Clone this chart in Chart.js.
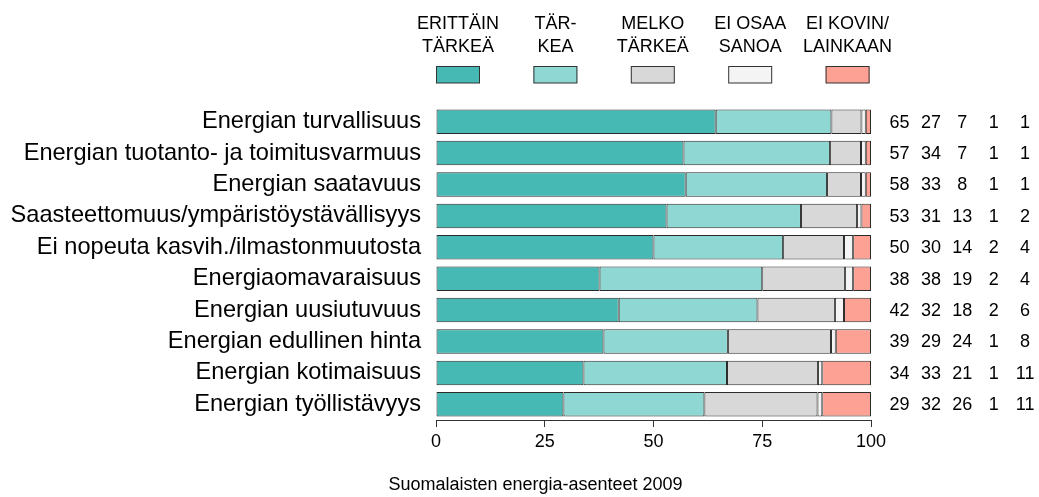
<!DOCTYPE html>
<html>
<head>
<meta charset="utf-8">
<script src="https://cdn.jsdelivr.net/npm/chart.js@4"></script>
<style>
  html, body { margin: 0; padding: 0; background: #ffffff; }
  #wrap { width: 1039px; height: 497px; position: relative; }
</style>
</head>
<body>
<div id="wrap"><canvas id="c" width="1039" height="497"></canvas></div>
<script>
// ---- Data ----
const categories = [
  'Energian turvallisuus',
  'Energian tuotanto- ja toimitusvarmuus',
  'Energian saatavuus',
  'Saasteettomuus/ympäristöystävällisyys',
  'Ei nopeuta kasvih./ilmastonmuutosta',
  'Energiaomavaraisuus',
  'Energian uusiutuvuus',
  'Energian edullinen hinta',
  'Energian kotimaisuus',
  'Energian työllistävyys'
];

const seriesNames = ['ERITTÄIN TÄRKEÄ', 'TÄRKEA', 'MELKO TÄRKEÄ', 'EI OSAA SANOA', 'EI KOVIN/ LAINKAAN'];
const legendLine1 = ['ERITTÄIN', 'TÄR-', 'MELKO', 'EI OSAA', 'EI KOVIN/'];
const legendLine2 = ['TÄRKEÄ', 'KEA', 'TÄRKEÄ', 'SANOA', 'LAINKAAN'];

// bar shares (%)
const erittainTarkea = [64.3, 56.9, 57.4, 53.0, 50.0, 37.6, 42.0, 38.5, 33.9, 29.3];
const tarkea         = [26.6, 33.7, 32.5, 30.9, 29.8, 37.4, 31.9, 28.6, 33.0, 32.4];
const melkoTarkea    = [ 6.9,  7.1,  7.8, 12.9, 14.0, 19.0, 17.8, 23.7, 20.9, 26.0];
const eiOsaaSanoa    = [ 1.0,  1.1,  1.1,  1.0,  2.1,  1.9,  2.1,  1.1,  1.0,  1.1];
const eiKovin        = [ 1.2,  1.2,  1.2,  2.2,  4.1,  4.1,  6.2,  8.1, 11.2, 11.2];

// rounded percentages printed on the right
const lblErittain = [65, 57, 58, 53, 50, 38, 42, 39, 34, 29];
const lblTarkea   = [27, 34, 33, 31, 30, 38, 32, 29, 33, 32];
const lblMelko    = [ 7,  7,  8, 13, 14, 19, 18, 24, 21, 26];
const lblEiOsaa   = [ 1,  1,  1,  1,  2,  2,  2,  1,  1,  1];
const lblEiKovin  = [ 1,  1,  1,  2,  4,  4,  6,  8, 11, 11];

const xTicks = [0, 25, 50, 75, 100];
const caption = 'Suomalaisten energia-asenteet 2009';

// ---- Styles ----
const FONT = "'Liberation Sans', Arial, Helvetica, sans-serif";
const colors = ['#46B9B5', '#8FD7D3', '#D8D8D8', '#F4F4F4', '#FDA194'];
const seriesData = [erittainTarkea, tarkea, melkoTarkea, eiOsaaSanoa, eiKovin];
const labelCols = [lblErittain, lblTarkea, lblMelko, lblEiOsaa, lblEiKovin];

const datasets = seriesData.map((d, i) => ({
  label: seriesNames[i],
  data: d,
  backgroundColor: colors[i],
  borderColor: '#2a2a2a',
  borderWidth: 1,
  borderSkipped: false,
  barPercentage: 0.78,
  categoryPercentage: 1.0
}));

const extrasPlugin = {
  id: 'extras',
  afterDraw(chart) {
    const ctx = chart.ctx;
    const ca = chart.chartArea;
    const yScale = chart.scales.y;
    ctx.save();
    // legend
    const step = 97.4;
    ctx.font = '18px ' + FONT;
    ctx.textAlign = 'center';
    ctx.textBaseline = 'alphabetic';
    for (let j = 0; j < colors.length; j++) {
      const cx = ca.left + 22 + j * step;
      ctx.fillStyle = '#000';
      ctx.fillText(legendLine1[j], cx, 29);
      ctx.fillText(legendLine2[j], cx, 52);
      ctx.fillStyle = colors[j];
      ctx.fillRect(cx - 22, 66, 44, 17);
      ctx.strokeStyle = '#333';
      ctx.lineWidth = 1;
      ctx.strokeRect(cx - 22 + 0.5, 66 + 0.5, 43, 16.5);
    }
    // right-hand numbers
    ctx.fillStyle = '#000';
    ctx.font = '18px ' + FONT;
    ctx.textAlign = 'center';
    ctx.textBaseline = 'middle';
    for (let i = 0; i < categories.length; i++) {
      const y = yScale.getPixelForValue(i);
      for (let j = 0; j < labelCols.length; j++) {
        const x = ca.right + 28.5 + j * 31.4;
        ctx.fillText(String(labelCols[j][i]), x, y + 1);
      }
    }
    // caption
    ctx.textAlign = 'center';
    ctx.textBaseline = 'middle';
    ctx.font = '18px ' + FONT;
    ctx.fillText(caption, 535.5, 485);
    ctx.restore();
  }
};

new Chart(document.getElementById('c'), {
  type: 'bar',
  data: { labels: categories, datasets },
  options: {
    indexAxis: 'y',
    responsive: false,
    animation: false,
    layout: { padding: { top: 106, right: 168, bottom: 0, left: 0 } },
    plugins: {
      legend: { display: false },
      tooltip: { enabled: false }
    },
    scales: {
      x: {
        stacked: true,
        min: 0,
        max: 100,
        afterFit(scale) { scale.height = 77; },
        afterBuildTicks(scale) { scale.ticks = xTicks.map(v => ({ value: v })); },
        ticks: {
          color: '#000',
          font: { family: FONT, size: 18 },
          padding: 4
        },
        grid: {
          display: true,
          drawOnChartArea: false,
          drawTicks: true,
          tickLength: 7,
          color: '#333',
          lineWidth: 1
        },
        border: { display: true, color: '#333', width: 1 }
      },
      y: {
        stacked: true,
        afterFit(scale) { scale.width = 436; },
        ticks: {
          color: '#000',
          font: { family: FONT, size: 23.6 },
          padding: 15,
          autoSkip: false
        },
        grid: { display: false, drawTicks: false },
        border: { display: false }
      }
    }
  },
  plugins: [extrasPlugin]
});
</script>
</body>
</html>
